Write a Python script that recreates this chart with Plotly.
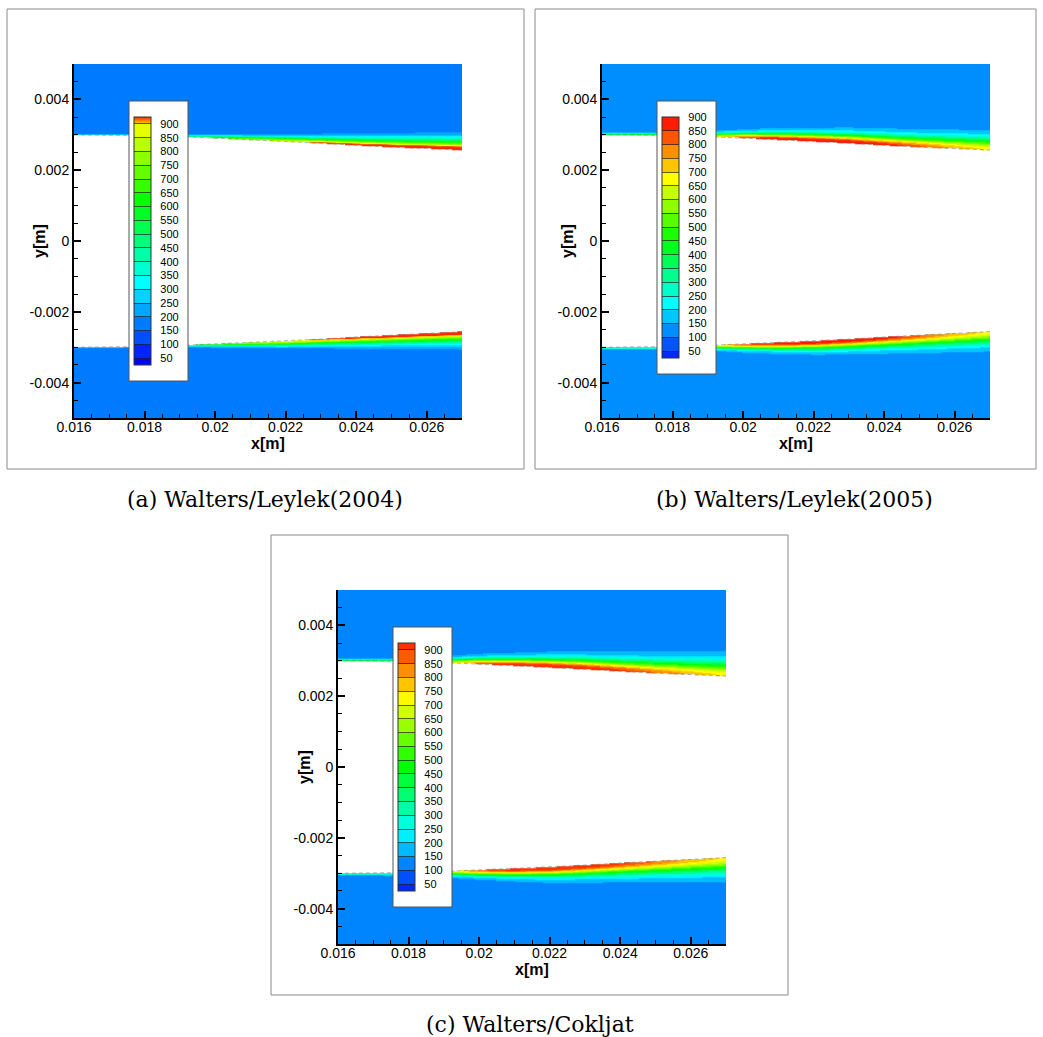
import numpy as np
import plotly.graph_objects as go

FIG_W, FIG_H = 1043, 1037

# ---------------- data ----------------
x_stations = [0.016, 0.017, 0.018, 0.019, 0.020, 0.021, 0.022, 0.023, 0.024, 0.025, 0.026, 0.027]
upper_wall_y = [0.00300, 0.00300, 0.00298, 0.00295, 0.00291, 0.00286, 0.00281, 0.00276, 0.00270, 0.00265, 0.00261, 0.00257]
lower_wall_y = [-0.00300, -0.00300, -0.00298, -0.00295, -0.00291, -0.00287, -0.00283, -0.00277, -0.00271, -0.00266, -0.00261, -0.00256]

# (a) Walters/Leylek(2004)
freestream_a = 170
peak_a = [290, 290, 300, 400, 640, 790, 880, 930, 965, 985, 995, 1000]
thickness_a = [0.00002, 0.00002, 0.00002, 0.000035, 0.000065, 0.00009, 0.00012, 0.00015, 0.00019, 0.00022, 0.00025, 0.00028]

# (b) Walters/Leylek(2005)
freestream_b = 130
peak_b = [420, 430, 470, 600, 830, 930, 960, 940, 890, 820, 740, 690]
thickness_b = [0.00004, 0.00004, 0.000055, 0.000085, 0.00013, 0.00017, 0.0002, 0.00023, 0.00025, 0.00027, 0.00029, 0.00031]

# (c) Walters/Cokljat
freestream_c = 130
peak_c = [430, 440, 480, 620, 870, 990, 1010, 980, 920, 850, 790, 740]
thickness_c = [0.00004, 0.00004, 0.00006, 0.0001, 0.00015, 0.00019, 0.00023, 0.00026, 0.00029, 0.00032, 0.00035, 0.00038]

legend_levels = [50, 100, 150, 200, 250, 300, 350, 400, 450, 500, 550, 600, 650, 700, 750, 800, 850, 900]

x_tick_vals = [0.016, 0.018, 0.020, 0.022, 0.024, 0.026]
x_tick_text = ["0.016", "0.018", "0.02", "0.022", "0.024", "0.026"]
y_tick_vals = [-0.004, -0.002, 0.0, 0.002, 0.004]
y_tick_text = ["-0.004", "-0.002", "0", "0.002", "0.004"]

captions = ["(a) Walters/Leylek(2004)", "(b) Walters/Leylek(2005)", "(c) Walters/Cokljat"]

# ---------------- helpers ----------------
gx = np.linspace(0.016, 0.027, 221)
gy = np.unique(np.round(np.concatenate([
    np.arange(-0.00505, -0.0038, 0.0001),
    np.arange(-0.0038, -0.0024, 0.000005),
    np.arange(-0.0024, 0.0024, 0.0002),
    np.arange(0.0024, 0.0038, 0.000005),
    np.arange(0.0038, 0.00506, 0.0001)]), 7))


def build_field(peak, thick, bg):
    yu = np.interp(gx, x_stations, upper_wall_y)
    yl = np.interp(gx, x_stations, lower_wall_y)
    pk = np.interp(gx, x_stations, peak)
    th = np.interp(gx, x_stations, thick)
    Y = gy[:, None]
    du = np.clip(Y - yu[None, :], 0, None)
    dl = np.clip(yl[None, :] - Y, 0, None)
    zu = bg + (pk - bg) * np.exp(-(du / th) ** 2)
    zl = bg + (pk - bg) * np.exp(-(dl / th) ** 2)
    z = np.where(Y >= yu[None, :], zu, np.where(Y <= yl[None, :], zl, np.nan))
    return [[None if np.isnan(v) else round(float(v), 1) for v in row] for row in z]


STOPS = [(0.0, (0, 0, 255)), (0.25, (0, 255, 255)), (0.5, (0, 255, 0)),
         (0.75, (255, 255, 0)), (1.0, (255, 0, 0))]


def palette(t):
    t = min(max(t, 0.0), 1.0)
    for (t0, c0), (t1, c1) in zip(STOPS[:-1], STOPS[1:]):
        if t <= t1:
            f = (t - t0) / (t1 - t0)
            r, g, b = [round(a + (bb - a) * f) for a, bb in zip(c0, c1)]
            return f"rgb({r},{g},{b})"
    return "rgb(255,0,0)"


def stepped_scale(edges, vmin, vmax, cap_gradient=None):
    zmin, zmax = edges[0], edges[-1]
    cs = []
    n = len(edges) - 1
    for i in range(n):
        lo, hi = edges[i], edges[i + 1]
        p0 = (lo - zmin) / (zmax - zmin)
        p1 = (hi - zmin) / (zmax - zmin)
        if cap_gradient is not None and i == n - 1:
            cs.append([p0, cap_gradient[0]])
            cs.append([p1, cap_gradient[1]])
        else:
            c = palette((0.5 * (lo + hi) - vmin) / (vmax - vmin))
            cs.append([p0, c])
            cs.append([p1, c])
    cs[-1][0] = 1.0
    return cs


panels = [
    dict(peak=peak_a, thick=thickness_a, bg=freestream_a,
         edges=[25] + legend_levels + [925], vmin=35, vmax=1195,
         cap=("rgb(255,215,0)", "rgb(255,40,0)"),
         plot=(74, 462, 64, 418), cb=(134, 101, 280), box=(129, 188, 101, 381),
         frame=(7, 524, 9, 469), cap_xy=(265, 500)),
    dict(peak=peak_b, thick=thickness_b, bg=freestream_b,
         edges=[25] + legend_levels, vmin=0, vmax=900, cap=None,
         plot=(602, 990, 64, 418), cb=(662, 101, 273), box=(657, 716, 101, 374),
         frame=(535, 1036, 9, 469), cap_xy=(794, 500)),
    dict(peak=peak_c, thick=thickness_c, bg=freestream_c,
         edges=[25] + legend_levels + [925], vmin=0, vmax=960, cap=None,
         plot=(338, 726, 590, 944), cb=(398, 627, 280), box=(393, 452, 627, 907),
         frame=(271, 788, 535, 995), cap_xy=(530, 1024)),
]

NB = "\u00a0\u00a0"

fig = go.Figure()
layout = dict(width=FIG_W, height=FIG_H,
              margin=dict(l=0, r=0, t=0, b=0, autoexpand=False),
              paper_bgcolor="white", plot_bgcolor="white", showlegend=False,
              shapes=[], annotations=[])

for i, p in enumerate(panels):
    sfx = "" if i == 0 else str(i + 1)
    xa, ya = "x" + sfx, "y" + sfx
    x0, x1, y0, y1 = p["plot"]
    edges = p["edges"]
    cbx, cby, cblen = p["cb"]
    fig.add_trace(go.Heatmap(
        x=gx, y=gy, z=build_field(p["peak"], p["thick"], p["bg"]),
        xaxis=xa, yaxis=ya, zsmooth=False, hoverinfo="skip",
        zmin=edges[0], zmax=edges[-1],
        colorscale=stepped_scale(edges, p["vmin"], p["vmax"], p["cap"]),
        colorbar=dict(
            x=cbx / FIG_W, xanchor="left", y=1 - cby / FIG_H, yanchor="top",
            len=cblen, lenmode="pixels", thickness=17, thicknessmode="pixels",
            xpad=0, ypad=16, bgcolor="rgba(0,0,0,0)", borderwidth=0,
            outlinecolor="#333333", outlinewidth=1,
            tickmode="array", tickvals=legend_levels,
            ticktext=[NB + str(v) for v in legend_levels],
            ticks="inside", ticklen=17, tickwidth=1, tickcolor="rgba(30,30,30,0.7)",
            tickfont=dict(family="Arial", size=11, color="black"),
        ),
    ))
    for wall in (upper_wall_y, lower_wall_y):
        fig.add_trace(go.Scatter(
            x=x_stations, y=wall, xaxis=xa, yaxis=ya, mode="lines",
            line=dict(color="rgba(110,125,125,0.55)", width=1, dash="4px,3px"),
            hoverinfo="skip"))

    axis_common = dict(showgrid=False, zeroline=False, showline=True,
                       linecolor="black", linewidth=2, ticks="inside", ticklen=7,
                       tickwidth=1.5, tickcolor="black",
                       tickfont=dict(family="Arial", size=14, color="black"))
    layout["xaxis" + sfx] = dict(
        axis_common, domain=[x0 / FIG_W, x1 / FIG_W], range=[0.016, 0.027],
        anchor=ya, tickmode="array", tickvals=x_tick_vals, ticktext=x_tick_text,
        minor=dict(tick0=0.016, dtick=0.0005, ticks="inside", ticklen=4,
                   tickcolor="black", tickwidth=1),
        ticklabelstandoff=-5)
    layout["yaxis" + sfx] = dict(
        axis_common, domain=[1 - y1 / FIG_H, 1 - y0 / FIG_H], range=[-0.005, 0.005],
        anchor=xa, tickmode="array", tickvals=y_tick_vals, ticktext=y_tick_text,
        minor=dict(tick0=0.0, dtick=0.0005, ticks="inside", ticklen=4,
                   tickcolor="black", tickwidth=1),
        ticklabelstandoff=0)

    fx0, fx1, fy0, fy1 = p["frame"]
    layout["shapes"].append(dict(type="rect", xref="paper", yref="paper",
                                 x0=fx0 / FIG_W, x1=fx1 / FIG_W,
                                 y0=1 - fy1 / FIG_H, y1=1 - fy0 / FIG_H,
                                 line=dict(color="#8a8a8a", width=1), layer="below"))
    bx0, bx1, by0, by1 = p["box"]
    layout["shapes"].append(dict(type="rect", xref="paper", yref="paper",
                                 x0=bx0 / FIG_W, x1=bx1 / FIG_W,
                                 y0=1 - by1 / FIG_H, y1=1 - by0 / FIG_H,
                                 fillcolor="white",
                                 line=dict(color="#555555", width=1), layer="above"))
    # axis titles
    layout["annotations"].append(dict(
        text="<b>x[m]</b>", xref="paper", yref="paper",
        x=(x0 + x1) / 2 / FIG_W, y=1 - (y1 + 25) / FIG_H,
        showarrow=False, font=dict(family="Arial", size=16, color="black"),
        xanchor="center", yanchor="middle"))
    layout["annotations"].append(dict(
        text="<b>y[m]</b>", xref="paper", yref="paper",
        x=(x0 - 34) / FIG_W, y=1 - (y0 + y1) / 2 / FIG_H, textangle=-90,
        showarrow=False, font=dict(family="Arial", size=16, color="black"),
        xanchor="center", yanchor="middle"))
    cx, cy = p["cap_xy"]
    layout["annotations"].append(dict(
        text=captions[i], xref="paper", yref="paper",
        x=cx / FIG_W, y=1 - cy / FIG_H, showarrow=False,
        font=dict(family="DejaVu Serif", size=22, color="black"),
        xanchor="center", yanchor="middle"))

fig.update_layout(**layout)
fig.write_html("out.html")
